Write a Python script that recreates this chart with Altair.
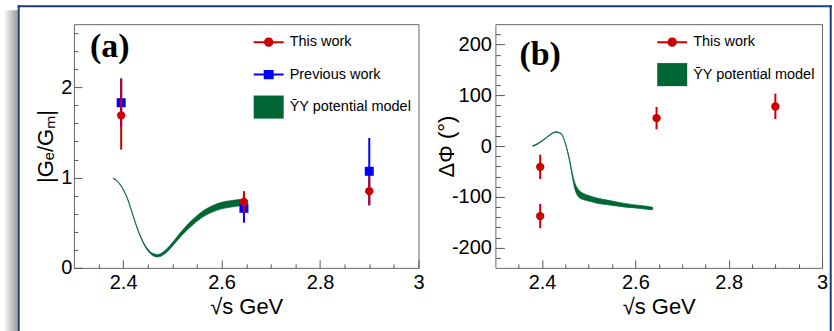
import altair as alt
import pandas as pd

# ---------------- data ----------------
energy = [2.3960, 2.6454, 2.9000]

# panel (a): |G_E/G_M|
ratio_this = [1.69, 0.73, 0.85]
ratio_this_err_lo = [0.38, 0.12, 0.16]
ratio_this_err_hi = [0.40, 0.12, 0.16]
ratio_prev = [1.83, 0.66, 1.07]
ratio_prev_err = [0.27, 0.16, 0.37]

band_a_x = [2.38, 2.385, 2.39, 2.40, 2.41, 2.42, 2.43, 2.44, 2.45, 2.46, 2.47, 2.48,
            2.49, 2.50, 2.52, 2.54, 2.56, 2.58, 2.60, 2.62, 2.64]
band_a_lo = [0.986, 0.971, 0.946, 0.866, 0.745, 0.574, 0.413, 0.282, 0.190, 0.138, 0.121, 0.139,
             0.182, 0.240, 0.365, 0.470, 0.557, 0.615, 0.654, 0.674, 0.690]
band_a_hi = [0.994, 0.979, 0.954, 0.874, 0.755, 0.586, 0.427, 0.298, 0.210, 0.162, 0.149, 0.171,
             0.218, 0.280, 0.415, 0.530, 0.623, 0.685, 0.726, 0.746, 0.760]

# panel (b): Delta Phi
phase_x = [2.3960, 2.3960, 2.6454, 2.9000]
phase_this = [-41, -138, 55, 78]
phase_err = [24, 24, 22, 25]

band_b_x = [2.38, 2.39, 2.40, 2.41, 2.42, 2.43, 2.44, 2.45, 2.455, 2.46, 2.465, 2.47,
            2.475, 2.48, 2.49, 2.50, 2.52, 2.54, 2.56, 2.58, 2.60, 2.62, 2.637]
band_b_lo = [-0.8, 3.2, 9.2, 16.2, 23.2, 26.7, 24.2, 4.0, -13.5, -35.5, -62, -84,
             -96, -102, -106, -108.5, -113, -115.5, -118, -120.5, -122, -124, -125.5]
band_b_hi = [0.8, 4.8, 10.8, 17.8, 24.8, 28.3, 25.8, 6.0, -10.5, -30.5, -54, -72,
             -82, -88, -94, -97.5, -103, -106.5, -110, -113.5, -116, -118, -120.5]

# axis ticks
x_major = [2.4, 2.6, 2.8, 3.0]
x_minor = [2.35, 2.45, 2.5, 2.55, 2.65, 2.7, 2.75, 2.85, 2.9, 2.95]
ya_major = [0, 1, 2]
ya_minor = [0.2, 0.4, 0.6, 0.8, 1.2, 1.4, 1.6, 1.8, 2.2, 2.4, 2.6]
yb_major = [-200, -100, 0, 100, 200]
yb_minor = [-220, -180, -160, -140, -120, -80, -60, -40, -20, 20, 40, 60, 80,
            120, 140, 160, 180, 220]

legend_a = ["This work", "Previous work", "\u0232Y potential model"]
legend_b = ["This work", "\u0232Y potential model"]

# ---------------- style ----------------
FONT = "Liberation Sans"
RED = "#cc0000"
BLUE = "#0000ff"
GREEN = "#006633"
NAVY = "#1b3c78"
TICK = "#555555"

SYM_THIS = ("M-1,-0.067 L1,-0.067 L1,0.067 L-1,0.067 Z "
            "M0.31,0 C0.31,0.171 0.171,0.31 0,0.31 C-0.171,0.31 -0.31,0.171 -0.31,0 "
            "C-0.31,-0.171 -0.171,-0.31 0,-0.31 C0.171,-0.31 0.31,-0.171 0.31,0 Z")
SYM_PREV = ("M-1,-0.067 L1,-0.067 L1,0.067 L-1,0.067 Z "
            "M-0.33,-0.31 L0.33,-0.31 L0.33,0.31 L-0.33,0.31 Z")
SYM_BAND = "M-1,-0.77 L1,-0.77 L1,0.77 L-1,0.77 Z"

xsc = alt.Scale(domain=[2.3, 3.0], nice=False, zero=False)
ysc_a = alt.Scale(domain=[0, 2.7], nice=False, zero=False)
ysc_b = alt.Scale(domain=[-240, 240], nice=False, zero=False)


def label_x():
    return alt.Axis(orient="bottom", values=x_major, format=".1~f", ticks=False, tickSize=0,
                    domain=False, grid=False, labelFlush=False, labelOverlap=False,
                    labelFont=FONT, labelFontSize=20, labelColor="black",
                    labelBaseline="alphabetic", labelPadding=21,
                    title="\u221As GeV", titleFont=FONT, titleFontSize=22,
                    titleFontWeight="normal", titleColor="black",
                    titleBaseline="alphabetic", titleY=46)


def label_y(values, title, title_x, pad):
    return alt.Axis(orient="left", values=values, labelExpr="'' + datum.value",
                    ticks=False, tickSize=0, domain=False, grid=False,
                    labelFlush=False, labelOverlap=False,
                    labelFont=FONT, labelFontSize=20, labelColor="black", labelPadding=pad,
                    title=title, titleFont=FONT, titleFontSize=22,
                    titleFontWeight="normal", titleColor="black",
                    titleBaseline="alphabetic", titleX=title_x, titleY=122)


def tick_axis(orient, values, size):
    return alt.Axis(orient=orient, values=values, labels=False, ticks=True, tickSize=size,
                    tickColor=TICK, tickWidth=1, offset=-size, domain=False, grid=False,
                    title=None)


def legend_layer(names, colors, shapes, lx):
    leg = alt.Legend(orient="none", legendX=lx, legendY=3, title=None, padding=0,
                     labelFont=FONT, labelFontSize=14.5, labelColor="black",
                     labelOffset=6, symbolSize=900, rowPadding=10.5,
                     symbolStrokeWidth=0, symbolOpacity=1)
    return (alt.Chart(pd.DataFrame({"series": names}))
            .transform_filter("false")
            .mark_point(filled=True, opacity=1, size=900)
            .encode(color=alt.Color("series:N", scale=alt.Scale(domain=names, range=colors), legend=leg),
                    shape=alt.Shape("series:N", scale=alt.Scale(domain=names, range=shapes), legend=leg)))


one = pd.DataFrame({"k": [0]})

# ---------------- panel (a) ----------------
df_band_a = pd.DataFrame({"x": band_a_x, "lo": band_a_lo, "hi": band_a_hi})
df_this_a = pd.DataFrame({"x": energy, "v": ratio_this,
                          "lo": [v - e for v, e in zip(ratio_this, ratio_this_err_lo)],
                          "hi": [v + e for v, e in zip(ratio_this, ratio_this_err_hi)]})
df_prev_a = pd.DataFrame({"x": energy, "v": ratio_prev,
                          "lo": [v - e for v, e in zip(ratio_prev, ratio_prev_err)],
                          "hi": [v + e for v, e in zip(ratio_prev, ratio_prev_err)]})

band_a = alt.Chart(df_band_a).mark_area(color=GREEN, stroke=GREEN, strokeWidth=0.7,
                                        interpolate="monotone", opacity=1).encode(
    x=alt.X("x:Q", scale=xsc, axis=label_x()),
    y=alt.Y("lo:Q", scale=ysc_a, axis=label_y(ya_major, "|G\u2091/G\u2098|", -21, 2)),
    y2="hi:Q")
prev_err_a = alt.Chart(df_prev_a).mark_rule(color=BLUE, strokeWidth=2).encode(
    x=alt.X("x:Q", scale=xsc, axis=tick_axis("bottom", x_major, 8)),
    y=alt.Y("lo:Q", scale=ysc_a, axis=tick_axis("left", ya_major, 8)),
    y2="hi:Q")
prev_pts_a = alt.Chart(df_prev_a).mark_square(color=BLUE, size=81, opacity=1).encode(
    x=alt.X("x:Q", scale=xsc, axis=tick_axis("bottom", x_minor, 4)),
    y=alt.Y("v:Q", scale=ysc_a, axis=tick_axis("left", ya_minor, 4)))
this_err_a = alt.Chart(df_this_a).mark_rule(color=RED, strokeWidth=2).encode(
    x=alt.X("x:Q", scale=xsc, axis=None),
    y=alt.Y("lo:Q", scale=ysc_a, axis=None),
    y2="hi:Q")
this_pts_a = alt.Chart(df_this_a).mark_circle(color=RED, size=70, opacity=1).encode(
    x=alt.X("x:Q", scale=xsc, axis=None),
    y=alt.Y("v:Q", scale=ysc_a, axis=None))
leg_a = legend_layer(legend_a, [RED, BLUE, GREEN], [SYM_THIS, SYM_PREV, SYM_BAND], 180)
tag_a = alt.Chart(one).mark_text(text="(a)", font="Liberation Serif", fontWeight="bold",
                                 fontSize=34, align="left", baseline="middle", color="black").encode(
    x=alt.value(16), y=alt.value(23))

# outer slide frame (decoration)
shadow = alt.Chart(one).mark_rect(
    fill=alt.LinearGradient(gradient="linear", x1=0, x2=1, y1=0, y2=0,
                            stops=[alt.GradientStop(color="#ffffff", offset=0),
                                   alt.GradientStop(color="#999999", offset=1)])).encode(
    x=alt.value(-70.3), x2=alt.value(-56.3), y=alt.value(-14), y2=alt.value(309))
frame_l = alt.Chart(one).mark_rule(color=NAVY, strokeWidth=2).encode(
    x=alt.value(-55.3), y=alt.value(-19), y2=alt.value(309))
frame_t = alt.Chart(one).mark_rule(color=NAVY, strokeWidth=2).encode(
    x=alt.value(-56.3), x2=alt.value(758.7), y=alt.value(-18))
frame_r = alt.Chart(one).mark_rule(color=NAVY, strokeWidth=2).encode(
    x=alt.value(757.7), y=alt.value(-19), y2=alt.value(309))

panel_a = alt.layer(band_a, prev_err_a, prev_pts_a, this_err_a, this_pts_a, leg_a, tag_a,
                    shadow, frame_l, frame_t, frame_r).resolve_axis(
    x="independent", y="independent").properties(width=345, height=244)

# ---------------- panel (b) ----------------
df_band_b = pd.DataFrame({"x": band_b_x, "lo": band_b_lo, "hi": band_b_hi})
df_this_b = pd.DataFrame({"x": phase_x, "v": phase_this,
                          "lo": [v - e for v, e in zip(phase_this, phase_err)],
                          "hi": [v + e for v, e in zip(phase_this, phase_err)]})

band_b = alt.Chart(df_band_b).mark_area(color=GREEN, stroke=GREEN, strokeWidth=0.7,
                                        interpolate="monotone", opacity=1).encode(
    x=alt.X("x:Q", scale=xsc, axis=label_x()),
    y=alt.Y("lo:Q", scale=ysc_b, axis=label_y(yb_major, "\u0394\u03a6 (\u00b0)", -42, 4)),
    y2="hi:Q")
this_err_b = alt.Chart(df_this_b).mark_rule(color=RED, strokeWidth=2).encode(
    x=alt.X("x:Q", scale=xsc, axis=tick_axis("bottom", x_major, 8)),
    y=alt.Y("lo:Q", scale=ysc_b, axis=tick_axis("left", yb_major, 9)),
    y2="hi:Q")
this_pts_b = alt.Chart(df_this_b).mark_circle(color=RED, size=70, opacity=1).encode(
    x=alt.X("x:Q", scale=xsc, axis=tick_axis("bottom", x_minor, 4)),
    y=alt.Y("v:Q", scale=ysc_b, axis=tick_axis("left", yb_minor, 5)))
leg_b = legend_layer(legend_b, [RED, GREEN], [SYM_THIS, SYM_BAND], 162)
tag_b = alt.Chart(one).mark_text(text="(b)", font="Liberation Serif", fontWeight="bold",
                                 fontSize=34, align="left", baseline="middle", color="black").encode(
    x=alt.value(24), y=alt.value(31))

panel_b = alt.layer(band_b, this_err_b, this_pts_b, leg_b, tag_b).resolve_axis(
    x="independent", y="independent").properties(width=327, height=244)

chart = (alt.hconcat(panel_a, panel_b, spacing=77, bounds="flush")
         .resolve_scale(x="independent", y="independent", color="independent", shape="independent")
         .resolve_legend(color="independent", shape="independent")
         .properties(padding={"left": 3, "top": 3, "right": 0, "bottom": 0}, background="white")
         .configure_view(stroke="#666666", strokeWidth=1))

chart.save("out.html", embed_options={"renderer": "svg", "actions": False})
